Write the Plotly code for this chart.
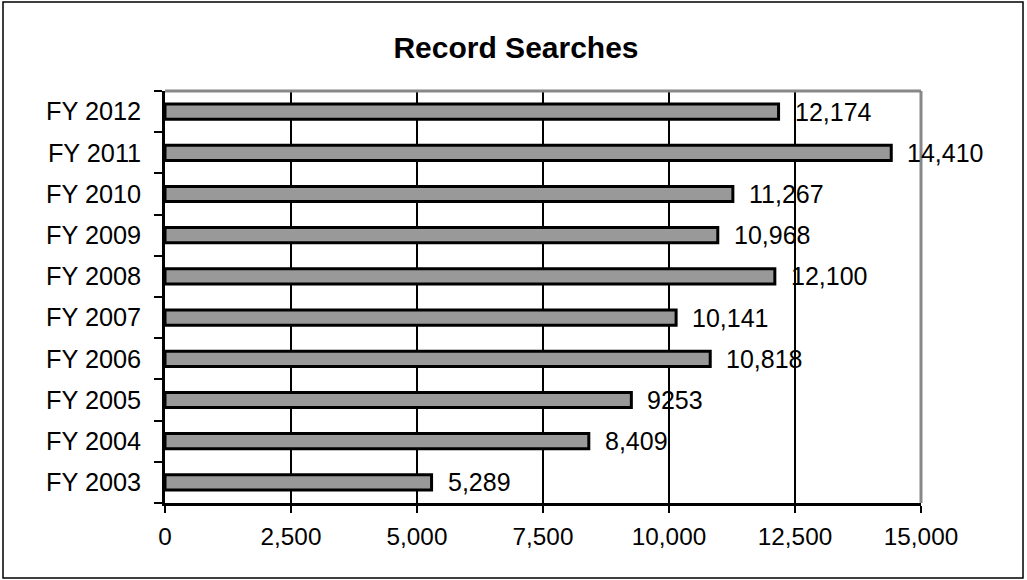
import plotly.graph_objects as go

categories = ["FY 2003", "FY 2004", "FY 2005", "FY 2006", "FY 2007",
              "FY 2008", "FY 2009", "FY 2010", "FY 2011", "FY 2012"]
values = [5289, 8409, 9253, 10818, 10141, 12100, 10968, 11267, 14410, 12174]
value_labels = ["5,289", "8,409", "9253", "10,818", "10,141",
                "12,100", "10,968", "11,267", "14,410", "12,174"]
x_ticks = [0, 2500, 5000, 7500, 10000, 12500, 15000]
x_tick_labels = ["0", "2,500", "5,000", "7,500", "10,000", "12,500", "15,000"]

FONT = "Liberation Sans, Arial, sans-serif"
W, H = 1027, 580
L, R, T, B = 165, 106, 91, 77
pw, ph = W - L - R, H - T - B

fig = go.Figure()
fig.add_trace(go.Bar(
    x=values, y=categories, orientation="h",
    marker=dict(color="#999999", line=dict(color="#000000", width=3)),
    width=0.37, hoverinfo="x+y",
))

for v, c, t in zip(values, categories, value_labels):
    fig.add_annotation(x=v, y=c, text=t, showarrow=False, xanchor="left",
                       yanchor="middle", xshift=14,
                       font=dict(family=FONT, size=25, color="#000000"))

def px_to_paper_x(px):
    return (px - L) / pw

def px_to_paper_y(py):
    return (H - B - py) / ph

# outer chart border
fig.add_shape(type="rect", xref="paper", yref="paper",
              x0=px_to_paper_x(3), x1=px_to_paper_x(1023),
              y0=px_to_paper_y(578), y1=px_to_paper_y(2),
              line=dict(color="#000000", width=1.5), layer="below")
# top and right gray plot-area border
fig.add_shape(type="line", xref="paper", yref="paper", x0=0, x1=1, y0=1, y1=1,
              line=dict(color="#888888", width=3))
fig.add_shape(type="line", xref="paper", yref="paper", x0=1, x1=1, y0=0, y1=1,
              line=dict(color="#888888", width=3))

fig.update_layout(
    width=W, height=H,
    margin=dict(l=L, r=R, t=T, b=B),
    paper_bgcolor="#ffffff", plot_bgcolor="#ffffff",
    font=dict(family=FONT, size=24, color="#000000"),
    title=dict(text="<b>Record Searches</b>", x=516 / W, xanchor="center",
               y=1 - 47 / H, yanchor="middle", yref="container",
               font=dict(family=FONT, size=30, color="#000000")),
    showlegend=False,
    xaxis=dict(range=[0, 15000], tickvals=x_ticks, ticktext=x_tick_labels,
               showgrid=True, gridcolor="#000000", gridwidth=1.5,
               showline=True, linecolor="#000000", linewidth=2.5,
               ticks="outside", ticklen=7, tickwidth=2, tickcolor="#000000",
               zeroline=False, fixedrange=True, ticklabelstandoff=3,
               tickfont=dict(family=FONT, size=24.3, color="#000000")),
    yaxis=dict(categoryorder="array", categoryarray=categories,
               showgrid=False, showline=True, linecolor="#000000", linewidth=2.5,
               ticks="outside", ticklen=8, tickwidth=2, tickcolor="#000000",
               tickson="boundaries", zeroline=False, fixedrange=True,
               ticklabelstandoff=16,
               tickfont=dict(family=FONT, size=25.3, color="#000000")),
)

fig.write_html("out.html", config={"displayModeBar": False},
               post_script="document.body.style.margin='0';document.body.style.overflow='hidden';")
